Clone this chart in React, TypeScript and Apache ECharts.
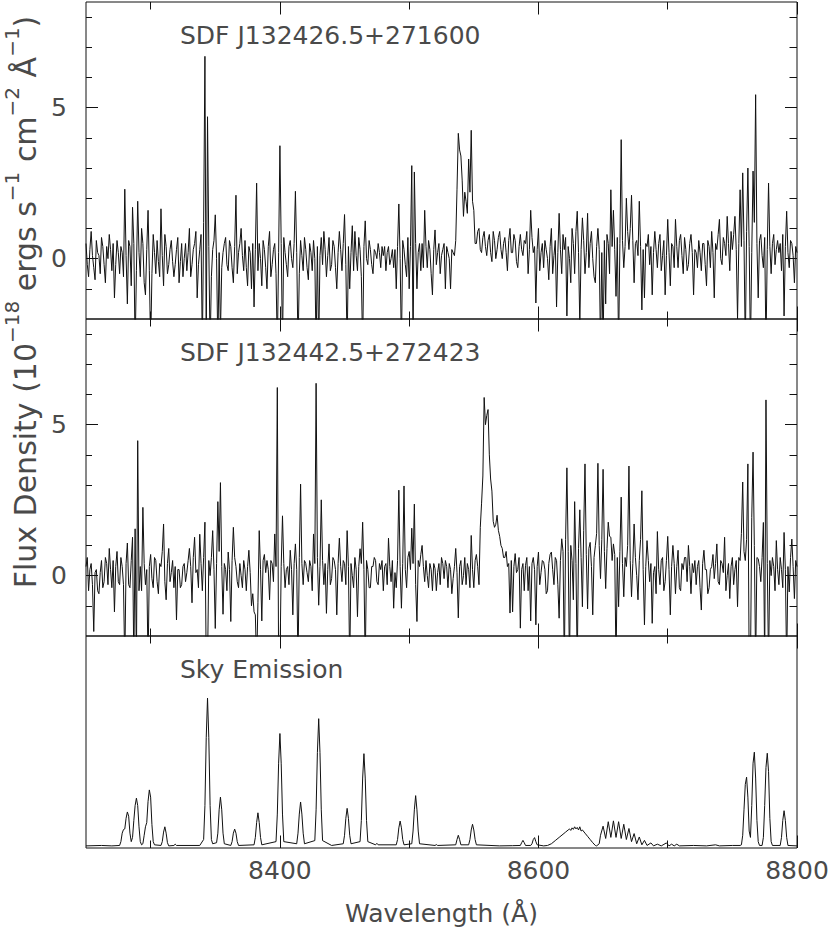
import React, { useEffect, useRef } from 'react';
import * as echarts from 'echarts';

// ---------- data ----------
const LAMBDA_START = 8250;
const LAMBDA_STEP = 1;
const X_MIN = 8250;
const X_MAX = 8800;
const X_MAJOR = [8400, 8600, 8800];
const X_MINOR = [8300, 8500, 8700];
const Y_MIN = -2;
const Y_MAX = 8.5;
const Y_MAJOR = [0, 5];
const Y_MINOR = [-1, 1, 2, 3, 4, 6, 7, 8];
const SKY_MIN = 0;
const SKY_MAX = 1;

const TITLES = ['SDF J132426.5+271600', 'SDF J132442.5+272423', 'Sky Emission'];
const X_NAME = 'Wavelength (Å)';

// flux density (1e-18 erg/s/cm2/A), one value per 1 A from 8250 A, 10 per row
const FLUX_1 = [
  0.5, -0.2, -0.6, 0.3, 0.9, 0.1, -0.3, -0.7, 0.6, 0.2,
  0.1, -0.5, 0.7, 0.4, -0.2, -0.8, 0.4, 0.0, 0.8, 0.3,
  -0.4, 0.5, -1.3, -0.2, 0.6, 0.2, -0.5, 0.4, 0.2, -0.6,
  2.3, 0.1, -1.5, 0.6, 0.4, -0.9, 1.7, 0.5, -3, -0.4,
  1.9, 0.2, -0.6, 1.0, 0.5, -0.8, -1.2, 0.3, 1.6, -0.4,
  -3, -0.5, 0.8, 0.2, -0.5, 0.6, -0.1, -0.6, 1.65, 0.1,
  -0.9, 0.8, 0.4, -0.5, -0.2, 0.3, 0.6, -0.1, -0.6, -0.2,
  0.3, 0.7, -0.8, -0.1, 0.5, -0.6, 0.0, 0.5, -0.4, 0.2,
  1.0, -0.6, -0.2, 0.3, 0.5, 0.9, -1.3, -0.2, 0.3, 0.8,
  -3, 1.2, 6.7, -3, 4.7, 0.4, -3, -0.6, 0.3, 0.6,
  1.45, 0.0, -3, 0.2, -2.5, -0.3, 0.2, 0.5, 0.7, -0.2,
  -0.4, 0.6, 0.4, -0.3, -0.8, 0.4, 2.1, -0.5, 0.2, 0.5,
  1.0, 0.1, -0.4, 0.6, -0.3, -0.9, 0.4, 0.2, -1.0, 0.5,
  -1.6, 0.3, 2.5, -0.4, 0.5, 0.0, -0.9, 0.6, 0.3, -0.3,
  -1.0, 0.4, 0.9, -0.6, -0.2, 0.3, 0.5, -0.5, -3, 0.2,
  3.74, 0.5, -3, 0.7, 0.2, -0.2, -0.6, 0.4, 0.6, 0.0,
  -0.3, 0.5, 2.23, 0.2, -3, -0.5, 0.6, 0.1, -0.4, 0.7,
  0.3, -0.3, -0.7, 0.5, 0.2, -0.4, 0.6, 0.0, -3, 0.4,
  -3, 0.1, 0.7, -0.2, 0.9, 0.3, -0.6, 0.1, 0.7, -0.4,
  -0.2, 0.6, 0.4, -0.3, -1.0, 0.2, 0.9, 0.3, -0.4, 0.5,
  1.46, -0.2, -3, 0.4, -1.0, 0.2, 1.09, -0.4, 0.9, 0.1,
  -0.4, 0.7, 0.3, -0.6, -3, 0.4, 1.25, 0.0, -0.2, 0.6,
  0.3, -0.2, -0.5, 0.3, 0.2, 0.0, 0.5, 0.2, -0.3, 0.4,
  0.1, 0.4, -0.4, 0.2, 0.4, -0.2, 0.0, 0.3, -0.3, 0.3,
  -1.0, 0.4, 1.81, 0.0, -3, 0.6, 0.3, -0.2, -0.6, 0.7,
  -1.0, 0.4, 3.08, -3, 2.87, 0.5, -1.0, 0.2, 0.5, -0.4,
  0.5, -0.3, 1.6, 0.4, -0.3, 0.6, 0.3, -0.5, -1.2, 0.3,
  0.95, -0.2, 0.2, 0.5, -0.5, 0.1, 0.3, 0.5, -1.0, 0.4,
  0.2, 0.0, -1.0, 0.3, 0.2, 0.1, 0.6, 2.3, 4.15, 3.6,
  3.4, 2.6, 1.4, 2.2, 1.9, 1.5, 3.3, 2.2, 4.25, 1.9,
  1.6, 0.5, 0.5, 0.9, 1.0, 0.3, 0.2, 0.7, 0.9, 0.4,
  0.1, 0.6, 0.8, 0.2, -0.1, 0.9, 0.6, 0.0, 0.3, 0.7,
  0.9, 0.3, 0.0, 0.5, 0.7, 0.2, -0.4, 0.6, 1.0, 0.2,
  0.2, 0.8, 0.6, -0.1, -0.3, 0.4, 0.8, 0.3, 0.1, 0.6,
  0.5, 0.9, -0.5, 0.3, 1.6, 0.7, 0.2, 0.4, -1.47, 0.3,
  1.0, -0.4, 0.2, 0.5, -0.3, 0.6, 0.3, 0.0, -0.7, 0.4,
  1.0, -0.5, 0.1, 0.6, -1.6, 0.2, 1.5, 0.3, -0.5, 0.8,
  0.3, 0.7, -1.9, 0.4, 0.0, -0.8, 1.0, 0.5, -0.5, 0.9,
  1.57, 0.2, -2.2, 0.3, 1.35, 0.6, -0.5, 0.2, 1.5, -0.3,
  0.5, 0.9, 0.0, -0.6, -0.8, 0.4, 1.0, 0.3, -3, 0.2,
  -3, 0.6, -1.5, 0.8, 0.5, -0.5, 2.28, 0.4, 1.6, 0.3,
  -1.25, 0.7, -3, 0.5, 3.94, 0.6, -0.3, 0.4, 2.0, 0.9,
  0.3, 1.0, 2.1, 0.6, -0.8, 0.5, 0.6, 0.1, 1.9, 0.4,
  -1.7, 0.3, -1.3, 0.5, 0.4, 0.8, -0.2, 0.4, -1.2, 0.2,
  0.9, 0.3, -0.3, 0.5, 0.8, -0.4, 0.1, 0.6, -1.2, 0.1,
  1.3, 0.2, -0.9, 0.5, 0.4, -0.3, 1.3, 0.4, -0.3, 0.6,
  0.8, 0.1, -0.5, 0.7, 0.3, -0.4, -0.2, 0.5, 0.8, 0.2,
  -1.2, 0.3, 0.2, -0.3, 0.6, 0.2, -0.4, 0.5, 0.5, -0.2,
  -0.9, 0.6, 0.4, -0.3, 0.9, 0.2, -1.3, 0.5, 0.3, 0.8,
  1.3, 0.0, -0.2, 0.7, 0.5, 0.1, 1.4, 0.5, -0.4, 0.9,
  0.3, 0.8, 1.4, 0.3, -2.0, 0.5, 2.28, 0.4, 2.84, 0.6,
  -3, 0.9, 3.0, 0.4, -3, 0.2, 2.9, 1.2, 5.43, 0.5,
  -1.3, 0.6, 0.8, 0.1, -0.3, 0.7, -3, 0.3, 2.5, 0.4,
  -0.5, 0.5, 0.8, -0.2, 0.3, 0.6, 0.2, 0.5, -0.4, 0.8,
  -1.9, 0.4, 1.57, 0.2, -0.3, 0.6, 0.5, 0.1, -0.8, 0.4,
  0.2,
];

const FLUX_2 = [
  0.3, 0.6, -0.5, 0.2, 0.4, -0.3, -1.85, 0.1, 0.2, -0.5,
  -0.6, 0.1, 0.5, -0.4, -0.2, 0.6, 0.4, -0.3, 0.9, 0.2,
  -0.4, 0.5, -1.2, 0.3, 0.8, -0.2, -0.3, 0.6, 0.3, -0.3,
  -3, 0.4, 1.08, -0.3, -0.4, 0.5, 1.27, -3, 1.55, -3,
  4.47, -0.5, 0.3, -0.5, 2.26, 0.4, -0.3, 0.2, -3, 0.3,
  0.7, -0.1, -0.4, 0.6, 0.5, -0.2, -0.6, 0.4, 0.3, 0.8,
  1.71, -0.2, -0.8, 0.4, 0.9, -0.2, 0.1, 0.5, -0.4, 0.3,
  -1.47, 0.2, 0.2, -0.4, -0.3, 0.3, 0.4, -0.2, 0.1, 0.5,
  0.9, 0.3, -0.9, 0.6, 1.27, 0.1, 0.2, -0.4, 1.37, 0.4,
  -0.5, 0.6, 1.77, -3, -3, 0.5, 0.0, 0.6, 1.49, 0.2,
  -1.75, 0.4, 2.45, 0.8, 3.08, 0.3, -1.28, 0.4, 0.2, -0.5,
  0.78, 0.2, -1.52, 0.5, 1.6, 0.6, 0.3, -0.2, -0.4, 0.4,
  0.0, -0.4, 0.5, 0.2, -0.5, 0.3, 0.84, 0.1, -1.0, -0.6,
  -1.2, -1.3, -3, -0.9, 1.49, 0.2, -1.5, 0.5, 0.7, 0.1,
  0.5, 0.2, -0.8, 0.5, 0.4, -0.2, 1.38, 0.3, 6.23, -3,
  -3, 0.3, 1.98, 0.4, -0.4, 0.2, 0.3, -0.3, 0.84, 0.2,
  -1.3, 0.4, 1.05, 0.2, -3, 0.6, 3.03, 0.4, -0.3, 0.5,
  0.4, 0.1, -0.2, 0.5, 0.3, -0.5, 1.38, 0.4, 6.37, 0.6,
  -0.98, 0.3, 2.51, 0.5, -0.3, 0.4, -1.25, 0.2, 1.05, -0.3,
  -0.1, 0.6, 0.5, 0.2, -1.3, 0.4, 1.24, 0.3, -0.2, 0.5,
  0.4, -0.3, 1.49, 0.3, -3, 0.4, 0.0, -0.4, 0.6, 0.2,
  -1.36, 0.3, 0.89, 0.4, 1.77, 0.2, -3, 0.5, 0.2, -0.4,
  -0.4, 0.3, 0.3, 0.6, 0.5, -0.2, -0.3, 0.4, 0.2, 0.5,
  -0.5, 0.3, 0.4, -0.3, 1.24, 0.3, -0.2, 0.5, -1.08, 0.1,
  -0.4, 0.5, 2.83, 0.3, -1.08, 0.4, 2.97, 0.2, -0.4, 0.6,
  0.8, 0.2, 1.57, 0.4, 2.37, -0.3, -1.52, 0.5, 0.3, 0.7,
  1.0, 0.3, -0.2, 0.5, 0.0, -0.4, 0.4, 0.2, -0.5, 0.4,
  0.23, -0.5, 0.1, 0.4, -0.3, 0.6, 0.4, -0.1, 0.5, 0.3,
  -0.4, 0.4, 0.2, -0.6, -0.1, 0.3, 0.9, 0.1, -1.4, 0.3,
  0.5, -0.3, 0.0, 0.6, -0.3, 0.4, 0.2, -0.4, 1.33, 0.2,
  -0.4, 0.5, 0.7, 0.3, -0.3, 1.6, 2.4, 3.3, 5.9, 5.0,
  5.3, 5.5, 4.0, 3.2, 2.8, 1.8, 1.6, 1.7, 2.0, 1.5,
  1.3, 1.0, 0.9, 0.6, 0.6, 0.8, 0.3, 0.4, -1.24, 0.5,
  -1.2, 0.3, 0.73, 0.1, 0.2, 0.6, -1.74, 0.2, 0.4, -0.5,
  0.34, 0.6, -0.5, 0.3, -1.5, 0.4, 0.6, 0.2, -1.63, 0.3,
  0.78, -0.3, 0.1, 0.5, 0.45, 0.2, -0.6, -0.5, 0.4, 0.7,
  0.78, 0.2, -0.3, 0.6, 0.5, -0.3, -1.41, 0.5, 1.22, 0.8,
  -3, 1.2, 3.57, 0.8, -3, 1.0, 0.5, -0.8, 2.45, 0.4,
  -3, 0.9, 2.18, 0.6, -1.03, 1.5, 3.7, 0.7, -1.1, 0.9,
  1.1, 0.3, -1.3, 0.6, 0.99, 1.4, 3.72, 1.0, -0.1, 1.2,
  3.52, 0.8, -0.43, 0.9, 1.77, 1.3, 1.27, 0.5, 1.05, 0.7,
  -3, 0.6, -1.03, 0.8, 2.6, 0.4, -0.7, 0.6, 0.3, 1.0,
  3.63, 0.5, -0.7, 0.4, 1.71, 0.6, 0.0, -0.8, 0.5, 1.2,
  2.81, 0.2, -1.63, 0.3, 1.16, 0.5, -0.2, 0.4, -1.58, 0.1,
  0.3, -0.6, 1.46, 0.2, -0.3, 0.5, 0.6, -0.5, -0.2, 0.5,
  1.3, 0.2, -1.3, 0.3, 1.0, 0.4, -0.6, 0.3, 0.84, -0.4,
  -0.5, 0.4, 0.2, 0.6, 0.6, -0.2, 1.0, 0.3, -0.6, 0.4,
  0.1, 0.5, -0.3, 0.3, 0.5, -0.4, -1.14, 0.4, 0.84, 0.2,
  0.2, -0.6, -0.4, 0.2, 0.3, 0.7, -0.1, 0.4, 1.05, -0.2,
  -0.3, 0.5, 0.4, 0.1, 1.27, -0.5, 0.0, 0.4, -0.76, 0.3,
  0.6, -0.3, 0.2, 0.5, -1.03, 0.6, 0.5, 1.4, 3.1, 0.8,
  0.5, 1.2, 3.7, -3, -3, 1.93, 4.09, 1.0, -3, 0.6,
  0.56, 0.3, -0.2, 0.6, 1.76, -3, 5.82, 0.4, -3, 0.5,
  0.0, 0.6, 0.3, -0.5, 1.16, 0.2, -0.3, 0.6, 0.2, -0.4,
  1.43, 0.2, -3, 0.3, -0.54, 0.6, 1.21, 0.3, -0.76, 0.5,
  0.3,
];

// sky emission [wavelength, relative intensity]
const SKY = [
  [8250, 0.01], [8262, 0.012], [8270, 0.01], [8276, 0.012],
  [8277, 0.03], [8278, 0.07], [8279, 0.087], [8280, 0.09], [8281, 0.14], [8282, 0.17], [8283, 0.15], [8284, 0.07], [8285, 0.03],
  [8286, 0.05], [8287, 0.13], [8288, 0.2], [8289, 0.235], [8290, 0.2], [8291, 0.1], [8292, 0.03], [8293, 0.015],
  [8294, 0.02], [8295, 0.06], [8296, 0.1], [8297, 0.12], [8298, 0.22], [8299, 0.274], [8300, 0.24], [8301, 0.11], [8302, 0.03], [8303, 0.015],
  [8308, 0.012], [8309, 0.03], [8310, 0.075], [8311, 0.1], [8312, 0.07], [8313, 0.025], [8314, 0.01],
  [8318, 0.012], [8319, 0.018], [8320, 0.012],
  [8338, 0.012], [8341, 0.04], [8342, 0.2], [8343, 0.52], [8344, 0.707], [8345, 0.52], [8346, 0.2], [8347, 0.04], [8348, 0.02],
  [8351, 0.025], [8352, 0.07], [8353, 0.18], [8354, 0.24], [8355, 0.18], [8356, 0.07], [8357, 0.02],
  [8362, 0.012], [8363, 0.03], [8364, 0.07], [8365, 0.089], [8366, 0.07], [8367, 0.03], [8368, 0.012],
  [8380, 0.015], [8381, 0.05], [8382, 0.12], [8383, 0.166], [8384, 0.12], [8385, 0.05], [8386, 0.015],
  [8397, 0.03], [8398, 0.16], [8399, 0.4], [8400, 0.54], [8401, 0.4], [8402, 0.16], [8403, 0.03],
  [8413, 0.02], [8414, 0.07], [8415, 0.16], [8416, 0.217], [8417, 0.16], [8418, 0.07], [8419, 0.02],
  [8427, 0.035], [8428, 0.18], [8429, 0.45], [8430, 0.61], [8431, 0.45], [8432, 0.18], [8433, 0.035],
  [8440, 0.012], [8449, 0.02], [8450, 0.06], [8451, 0.14], [8452, 0.187], [8453, 0.14], [8454, 0.06], [8455, 0.02],
  [8462, 0.03], [8463, 0.13], [8464, 0.33], [8465, 0.445], [8466, 0.33], [8467, 0.13], [8468, 0.03],
  [8474, 0.015], [8475, 0.022], [8476, 0.015],
  [8490, 0.015], [8491, 0.04], [8492, 0.095], [8493, 0.127], [8494, 0.095], [8495, 0.04], [8496, 0.015],
  [8502, 0.02], [8503, 0.08], [8504, 0.18], [8505, 0.247], [8506, 0.18], [8507, 0.08], [8508, 0.02],
  [8520, 0.012], [8521, 0.016], [8522, 0.012],
  [8536, 0.015], [8537, 0.04], [8538, 0.06], [8539, 0.04], [8540, 0.015],
  [8546, 0.015], [8547, 0.04], [8548, 0.085], [8549, 0.112], [8550, 0.085], [8551, 0.04], [8552, 0.015],
  [8570, 0.01], [8580, 0.011],
  [8586, 0.012], [8587, 0.025], [8588, 0.036], [8589, 0.025], [8590, 0.012],
  [8594, 0.012], [8595, 0.02], [8596, 0.04], [8597, 0.049], [8598, 0.03], [8599, 0.015],
  [8604, 0.01], [8607, 0.012], [8610, 0.02], [8613, 0.035], [8616, 0.05], [8619, 0.065], [8621, 0.075],
  [8623, 0.085], [8624, 0.09], [8625, 0.083], [8626, 0.095], [8627, 0.088], [8628, 0.1], [8629, 0.09],
  [8630, 0.097], [8631, 0.085], [8632, 0.1], [8633, 0.08], [8634, 0.085], [8636, 0.07], [8638, 0.055],
  [8640, 0.04], [8642, 0.025], [8644, 0.012], [8645, 0.01],
  [8647, 0.02], [8648, 0.06], [8650, 0.103], [8652, 0.045], [8654, 0.124], [8656, 0.05], [8658, 0.128],
  [8660, 0.05], [8662, 0.124], [8664, 0.045], [8666, 0.112], [8668, 0.04], [8670, 0.092], [8672, 0.03],
  [8674, 0.068], [8676, 0.02], [8678, 0.052], [8680, 0.015], [8682, 0.036], [8684, 0.012], [8687, 0.024],
  [8689, 0.01], [8692, 0.018], [8695, 0.01], [8699, 0.024], [8701, 0.01], [8703, 0.018], [8705, 0.01],
  [8707, 0.018], [8709, 0.01],
  [8720, 0.012], [8730, 0.01], [8737, 0.015], [8740, 0.01], [8750, 0.012], [8756, 0.012],
  [8757, 0.015], [8758, 0.06], [8759, 0.18], [8760, 0.3], [8761, 0.334], [8762, 0.24], [8763, 0.08],
  [8764, 0.05], [8765, 0.2], [8766, 0.4], [8767, 0.452], [8768, 0.33], [8769, 0.13], [8770, 0.03], [8771, 0.012],
  [8773, 0.012], [8774, 0.05], [8775, 0.2], [8776, 0.38], [8777, 0.447], [8778, 0.36], [8779, 0.14], [8780, 0.03], [8781, 0.012],
  [8787, 0.012], [8788, 0.05], [8789, 0.13], [8790, 0.176], [8791, 0.13], [8792, 0.05], [8793, 0.012],
  [8800, 0.01],
];

// ---------- style ----------
const INK = '#111';
const TEXT = '#4a4a4a';
const FONT = '"DejaVu Sans", "Liberation Sans", sans-serif';
const FS = 25;

const PLOT_LEFT = 86;
const PLOT_WIDTH = 711;
const PANELS = [
  { top: 2, height: 317 },
  { top: 319, height: 317 },
  { top: 636, height: 212 },
];

function tickAxis(kind: 'x' | 'y', g: number, position: string, values: number[], len: number, labels: boolean, range: [number, number]) {
  return {
    gridIndex: g,
    type: 'value',
    min: range[0],
    max: range[1],
    position,
    axisLine: { show: false, onZero: false },
    splitLine: { show: false },
    axisTick: { show: true, inside: true, length: len, customValues: values, lineStyle: { color: INK, width: 1 } },
    axisLabel: labels
      ? {
          show: true,
          customValues: values,
          margin: kind === 'x' ? 10 : 19,
          fontSize: FS,
          fontFamily: FONT,
          color: TEXT,
          formatter: (v: number) => String(v),
        }
      : { show: false },
  };
}

function buildOption() {
  const xAxis: any[] = [];
  const yAxis: any[] = [];
  const xr: [number, number] = [X_MIN, X_MAX];
  const yr: [number, number] = [Y_MIN, Y_MAX];
  for (let g = 0; g < 3; g++) {
    const lab = g === 2;
    xAxis.push(tickAxis('x', g, 'bottom', X_MAJOR, 12.5, lab, xr));
    xAxis.push(tickAxis('x', g, 'bottom', X_MINOR, 7.5, false, xr));
    xAxis.push(tickAxis('x', g, 'top', X_MAJOR, 12.5, false, xr));
    xAxis.push(tickAxis('x', g, 'top', X_MINOR, 7.5, false, xr));
    if (g < 2) {
      yAxis.push(tickAxis('y', g, 'left', Y_MAJOR, 12, true, yr));
      yAxis.push(tickAxis('y', g, 'left', Y_MINOR, 6, false, yr));
      yAxis.push(tickAxis('y', g, 'right', Y_MAJOR, 12, false, yr));
      yAxis.push(tickAxis('y', g, 'right', Y_MINOR, 7.5, false, yr));
    } else {
      yAxis.push({
        gridIndex: 2,
        type: 'value',
        min: SKY_MIN,
        max: SKY_MAX,
        axisLine: { show: false, onZero: false },
        axisTick: { show: false },
        axisLabel: { show: false },
        splitLine: { show: false },
      });
    }
  }

  const lineBase = {
    type: 'line',
    symbol: 'none',
    showSymbol: false,
    clip: true,
    silent: true,
    lineStyle: { color: INK, width: 1 },
  };

  const series = [
    { ...lineBase, xAxisIndex: 0, yAxisIndex: 0, data: FLUX_1.map((v, i) => [LAMBDA_START + i * LAMBDA_STEP, v]) },
    { ...lineBase, xAxisIndex: 4, yAxisIndex: 4, data: FLUX_2.map((v, i) => [LAMBDA_START + i * LAMBDA_STEP, v]) },
    { ...lineBase, xAxisIndex: 8, yAxisIndex: 8, data: SKY },
  ];

  const titleY = [35, 352, 669];
  const graphic: any[] = TITLES.map((t, i) => ({
    type: 'text',
    x: 180,
    y: titleY[i],
    style: { text: t, fontSize: FS, fontFamily: FONT, fill: TEXT, align: 'left', verticalAlign: 'middle' },
  }));
  graphic.push({
    type: 'text',
    x: PLOT_LEFT + PLOT_WIDTH / 2,
    y: 913,
    style: { text: X_NAME, fontSize: FS, fontFamily: FONT, fill: TEXT, align: 'center', verticalAlign: 'middle' },
  });
  graphic.push({
    type: 'text',
    x: 21,
    y: 302,
    rotation: Math.PI / 2,
    style: {
      text: '{a|Flux Density (10}{b|−18}{a| ergs s}{b|−1}{a| cm}{b|−2}{a| Å}{b|−1}{a|)}',
      align: 'center',
      verticalAlign: 'middle',
      rich: {
        a: { fontSize: 30, fontFamily: FONT, fill: TEXT, lineHeight: 38, verticalAlign: 'bottom' },
        b: { fontSize: 20, fontFamily: FONT, fill: TEXT, lineHeight: 22, verticalAlign: 'top' },
      },
    },
  });

  return {
    animation: false,
    backgroundColor: '#fff',
    grid: PANELS.map((p) => ({
      left: PLOT_LEFT,
      width: PLOT_WIDTH,
      top: p.top,
      height: p.height,
      show: true,
      borderColor: INK,
      borderWidth: 1,
      backgroundColor: 'transparent',
      containLabel: false,
      outerBoundsMode: 'none',
    })),
    xAxis,
    yAxis,
    series,
    graphic,
  };
}

export default function App() {
  const ref = useRef<HTMLDivElement>(null);
  useEffect(() => {
    if (!ref.current) return;
    const chart = echarts.init(ref.current, null, { renderer: 'svg' });
    chart.setOption(buildOption() as any);
    return () => chart.dispose();
  }, []);
  return <div ref={ref} style={{ position: 'absolute', left: 0, top: 0, width: 830, height: 940 }} />;
}
